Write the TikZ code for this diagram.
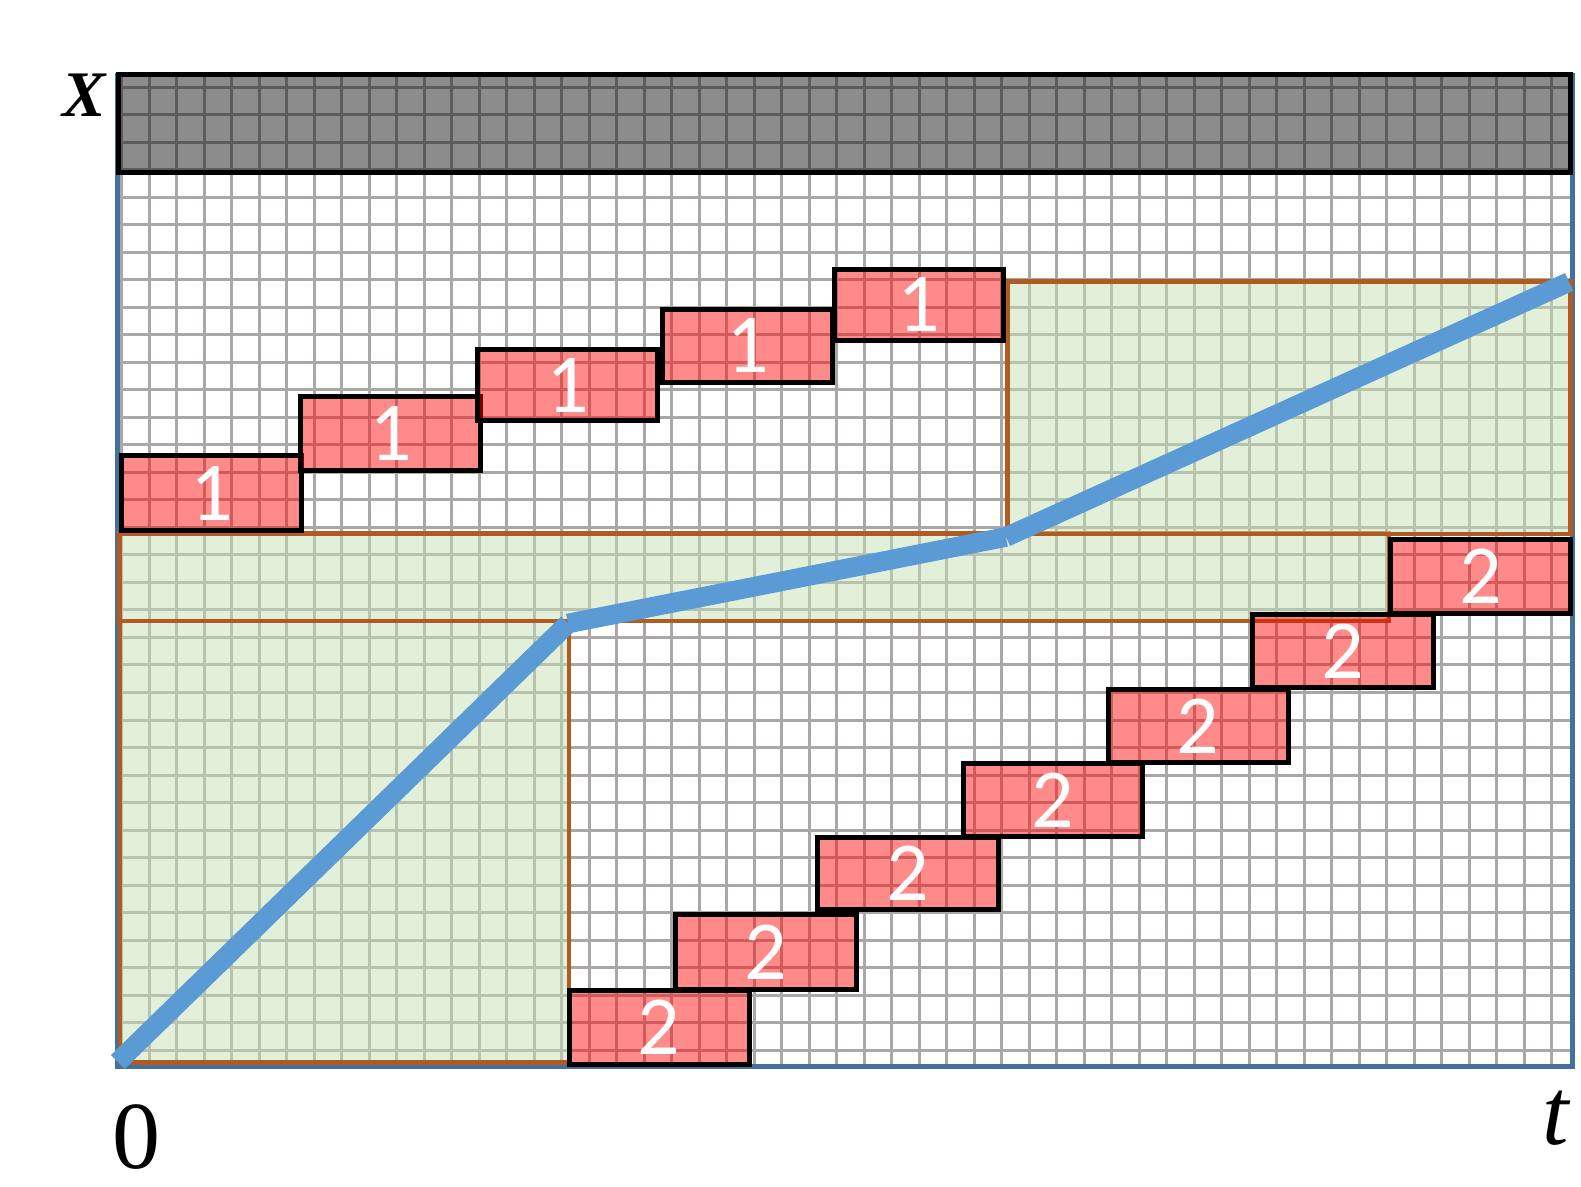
\documentclass[tikz,border=0pt]{standalone}
\usepackage{fontspec}
\setmainfont{Liberation Serif}
\newfontfamily\digitfont{Carlito}
\usetikzlibrary{calc}
\definecolor{gridgray}{HTML}{ABA7A7}
\definecolor{frameblue}{HTML}{41719C}
\definecolor{brownb}{HTML}{B15B22}
\definecolor{greenf}{HTML}{C5E0B4}
\definecolor{lineblue}{HTML}{5B9BD5}
\newcommand\mybox[6]{%
  \draw[rbox] (#2,#3) rectangle (#4,#5);
  \node[rlbl] (#1) at ({(#2+#4)/2},{(#3+#5)/2}) {#6};}
\begin{document}
\begin{tikzpicture}[x=0.5pt,y=-0.5pt,
  gridline/.style={draw=gridgray, line width=1.5pt},
  frame/.style={draw=frameblue, line width=2.25pt},
  region/.style={fill=greenf, fill opacity=0.5, draw=brownb, line width=2.2pt},
  rbox/.style={fill=red, fill opacity=0.46, draw=black, line width=2.5pt},
  rlbl/.style={text=white, font=\digitfont\fontsize{42}{50}\selectfont, inner sep=0pt},
  band/.style={fill=black, fill opacity=0.45, draw=black, line width=2.5pt},
  blueline/.style={draw=lineblue, line width=9.8pt, line cap=butt},
  axlbl/.style={anchor=base, inner sep=0pt}]
\useasboundingbox (0,0) rectangle (1581,1187);
% grid
\foreach \i in {0,...,52} \draw[gridline] ({121.8+27.5*\i},75) -- ({121.8+27.5*\i},1066.7);
\foreach \j in {0,...,35} \draw[gridline] (117.7,{87.5+27.5*\j}) -- (1572.5,{87.5+27.5*\j});
% frame
\draw[frame] (117.7,75) rectangle (1572.5,1066.7);
% green regions
\draw[region] (120,621) rectangle (569,1062.5);
\draw[region] (119.5,533.7) rectangle (1389,621);
\draw[region] (1007.5,281.7) rectangle (1570.5,534);
% red boxes
\mybox{ba}{121.7}{455.8}{301.8}{530.2}{1}
\mybox{bb}{300.8}{396.5}{480.8}{470.8}{1}
\mybox{bc}{477.5}{349.2}{657.5}{420.8}{1}
\mybox{bd}{662.9}{309.2}{832.7}{382.5}{1}
\mybox{be}{834.5}{269.2}{1003.6}{340.5}{1}
\mybox{ca}{569.2}{990.8}{749.2}{1064.2}{2}
\mybox{cb}{675.8}{914.8}{856.5}{989.2}{2}
\mybox{cc}{817.5}{837.5}{998.5}{909.2}{2}
\mybox{cd}{963.2}{763.2}{1142.5}{836.5}{2}
\mybox{ce}{1108.2}{689.2}{1288.2}{762.5}{2}
\mybox{cf}{1252.5}{614.2}{1433.2}{687.5}{2}
\mybox{cg}{1390.2}{539.2}{1570.8}{613.5}{2}
% gray band
\draw[band] (118.3,75) rectangle (1570.8,173);
% blue polyline
\coordinate (p0) at (117.8,1062);
\coordinate (p1) at (568,623.5);
\coordinate (p2) at (1006,537);
\coordinate (p3) at (1569,282);
\draw[blueline] (p0) -- (p1);
\draw[blueline] (p1) -- (p2);
\draw[blueline] (p2) -- (p3);
% labels
\node[axlbl, font=\fontsize{32.5}{40}\selectfont\bfseries\itshape] (lx) at (84.5,116.7) {X};
\node[axlbl, font=\fontsize{48}{56}\selectfont] (l0) at (136.5,1168.5) {0};
\node[axlbl, font=\fontsize{47.5}{56}\selectfont\itshape] (lt) at (1556,1144) {t};
\end{tikzpicture}
\end{document}
